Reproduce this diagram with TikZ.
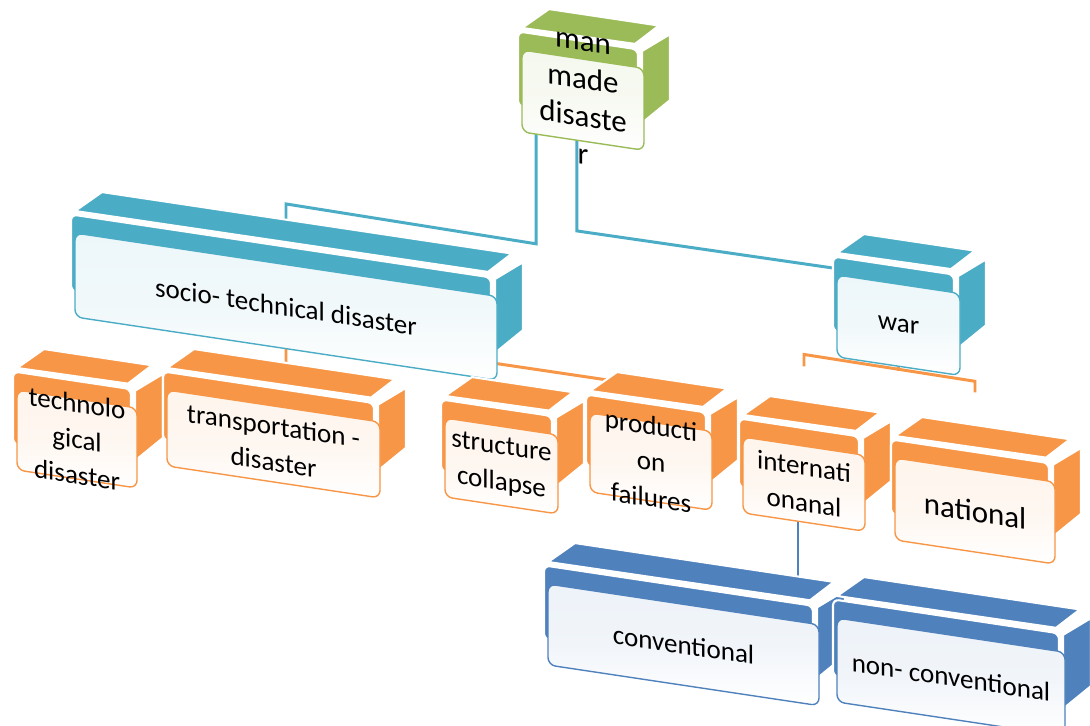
\documentclass[tikz,border=0pt]{standalone}
\usepackage{fontspec}
\setmainfont{Carlito}
\usepackage{xcolor}
\usetikzlibrary{calc}
\pgfdeclarelayer{background}
\pgfsetlayers{background,main}

\definecolor{leaf}{HTML}{9BBB59}
\definecolor{aqua}{HTML}{4BACC6}
\definecolor{amber}{HTML}{F79646}
\definecolor{steel}{HTML}{4F81BD}

\tikzset{
	face/.style={fill=#1, draw=white, line width=1.2pt, line join=round},
	panel/.style={draw=#1, line width=0.8pt, rounded corners=0.15cm,
		top color=#1!10!white, bottom color=white, middle color=#1!8!white,
		transform shape, inner sep=0pt},
	caption/.style={transform shape, align=center, inner sep=0pt, text=black},
	conn/.style={draw=#1, line width=1.7pt},
	normaltext/.style={font=\fontsize{15.4}{20.5}\selectfont},
	largetext/.style={font=\fontsize{17.6}{21.5}\selectfont},
}

% 3d box: x, y of panel corner, width, height, colour, name, font, text
\newcommand{\drawblock}[8]{%
	\begin{scope}[shift={(#1,#2)}, yslant=-0.15]
		\path[face=#5] (0,-22) -- (27,-45) -- (#3+15,-45) -- (#3-9,-23) -- cycle;
		\path[face=#5] (#3-2,-17) -- (#3+26,-38) -- (#3+26,#4-54) -- (#3-2,#4-27) -- cycle;
		\path[face=#5, rounded corners=0.12cm] (-4,-18) rectangle (#3-6,#4-25);
		\node[panel=#5, minimum width=#3*0.02cm, minimum height=#4*0.02cm] (#6) at (#3/2,#4/2) {};
		\node[caption, #7] (#6-text) at (#6.center) {#8};
	\end{scope}}

\begin{document}
\begin{tikzpicture}[x=0.02cm, y=-0.02cm]
	\useasboundingbox (0,0) rectangle (1090,726);
	
	\drawblock{522}{50}{122}{82}{leaf}{mmd}{largetext}{man\\made\\disaste\\r}
	\drawblock{75}{233}{422}{84}{aqua}{socio}{normaltext}{socio- technical disaster}
	\drawblock{837}{275}{123}{82}{aqua}{war}{normaltext}{war}
	
	\drawblock{17}{390}{120}{80}{amber}{techno}{normaltext}{technolo\\gical\\disaster}
	\drawblock{167}{390}{213}{76}{amber}{transp}{normaltext}{transportation -\\disaster}
	\drawblock{445}{418}{113}{79}{amber}{struct}{normaltext}{structure\\collapse}
	\drawblock{590}{413}{122}{79}{amber}{prodn}{normaltext}{producti\\on\\failures}
	\drawblock{743}{437}{122}{76}{amber}{intl}{normaltext}{internati\\onanal}
	\drawblock{895}{458}{160}{82}{amber}{natl}{largetext}{national}
	
	\drawblock{548}{584}{271}{81}{steel}{conv}{normaltext}{conventional}
	\drawblock{837}{618}{228}{84}{steel}{nonconv}{normaltext}{non- conventional}
	
	% connectors behind the boxes
	\begin{pgfonlayer}{background}
		\draw[conn=aqua] ($(mmd.south west)!0.12!(mmd.south east)$) ++(0,-16) -- ++(0,125)
		-- ($(socio.north)+(0,-60)$) -- ($(socio.north)+(0,-34)$);
		\draw[conn=aqua] ($(mmd.south west)!0.45!(mmd.south east)$) ++(0,-16) -- ++(0,106)
		-- ($(war.north)+(0,-6)$);
		
		\draw[conn=amber] ($(transp.north -| socio.south)+(0,-30)$) -- ($(socio.south)+(0,-17)$)
		-- ($(prodn.north)+(0,-35)$);
		
		\draw[conn=amber] (war.center) -- ($(war.south)+(0,4)$);
		\draw[conn=amber] ($(intl.north)+(0,-79)$) -- ($(intl.north)+(0,-91)$)
		-- ($(natl.north)+(0,-88)$) -- ++(0,11);
		
		\draw[conn=steel] ($(intl.center)+(-6,0)$) -- ++(0,105);
	\end{pgfonlayer}
\end{tikzpicture}
\end{document}
